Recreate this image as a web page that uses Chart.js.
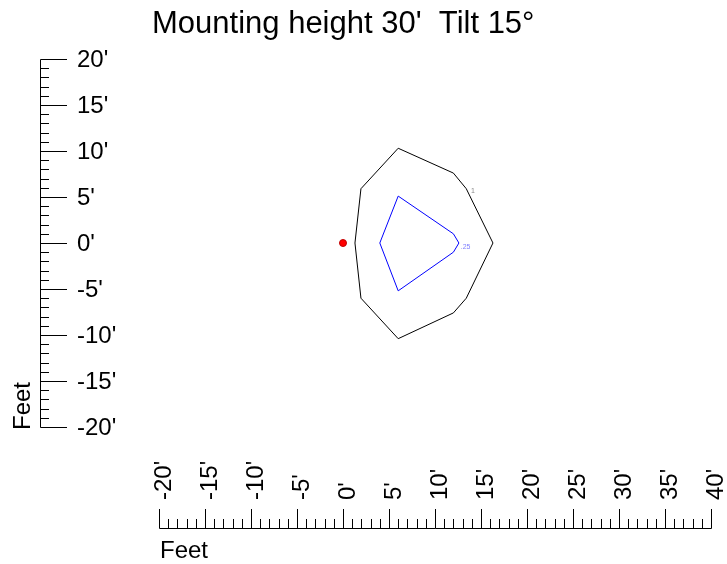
<!DOCTYPE html>
<html>
<head>
<meta charset="utf-8">
<script src="https://cdn.jsdelivr.net/npm/chart.js@4.4.1/dist/chart.umd.min.js"></script>
<style>
  html, body { margin: 0; padding: 0; background: #fff; }
  #wrap { width: 727px; height: 564px; }
</style>
</head>
<body>
<div id="wrap"><canvas id="chartIso"></canvas></div>
<script>
// isoline contours, feet
const outerX = [6.0, 12.0, 13.4, 16.3, 13.4, 12.0, 6.0, 1.95, 1.3, 1.95, 6.0];
const outerY = [10.3, 7.6, 5.9, 0, -6.0, -7.6, -10.4, -6.0, 0, 5.9, 10.3];
const innerX = [6.0, 12.0, 12.6, 12.0, 6.0, 4.0, 6.0];
const innerY = [5.1, 1.0, 0, -1.0, -5.2, 0, 5.1];
const poleX = [0];
const poleY = [0];
const contourLabels = ['1', '.25'];
const labelX = [13.9, 12.8];
const labelY = [5.65, -0.4];
const xTicks = [-20, -15, -10, -5, 0, 5, 10, 15, 20, 25, 30, 35, 40];
const yTicks = [20, 15, 10, 5, 0, -5, -10, -15, -20];
const titleText = "Mounting height 30'  Tilt 15°";
const axisTitle = 'Feet';

const toPts = (xs, ys) => xs.map((x, i) => ({x: x, y: ys[i]}));

const rulers = {
    id: 'rulers',
    afterDraw(chart) {
        const ctx = chart.ctx;
        const xs = chart.scales.x;
        const ys = chart.scales.y;
        const font = '24px "Liberation Sans", Arial, sans-serif';
        ctx.save();

        // title
        ctx.fillStyle = '#000';
        ctx.font = '31px "Liberation Sans", Arial, sans-serif';
        ctx.textAlign = 'left';
        ctx.textBaseline = 'alphabetic';
        ctx.fillText(titleText, 152, 33);

        // contour labels
        ctx.font = '7px "Liberation Sans", Arial, sans-serif';
        ctx.textBaseline = 'middle';
        ctx.fillStyle = '#888';
        ctx.fillText(contourLabels[0], xs.getPixelForValue(labelX[0]), ys.getPixelForValue(labelY[0]));
        ctx.fillStyle = '#8080ff';
        ctx.fillText(contourLabels[1], xs.getPixelForValue(labelX[1]), ys.getPixelForValue(labelY[1]));

        ctx.strokeStyle = '#000';
        ctx.lineWidth = 1;

        // vertical ruler
        const rx = 40.5;
        ctx.beginPath();
        ctx.moveTo(rx, Math.round(ys.getPixelForValue(20)) + 0.5);
        ctx.lineTo(rx, Math.round(ys.getPixelForValue(-20)) + 0.5);
        for (let v = -20; v <= 20; v++) {
            const py = Math.round(ys.getPixelForValue(v)) + 0.5;
            ctx.moveTo(rx, py);
            ctx.lineTo(v % 5 === 0 ? 67 : 49, py);
        }
        ctx.stroke();

        ctx.font = font;
        ctx.fillStyle = '#000';
        ctx.textAlign = 'left';
        ctx.textBaseline = 'middle';
        yTicks.forEach(v => ctx.fillText(v + "'", 77, ys.getPixelForValue(v) + 1));

        // horizontal ruler
        const ry = 528.5;
        ctx.beginPath();
        ctx.moveTo(Math.round(xs.getPixelForValue(-20)) + 0.5, ry);
        ctx.lineTo(Math.round(xs.getPixelForValue(40)) + 0.5, ry);
        for (let v = -20; v <= 40; v++) {
            const px = Math.round(xs.getPixelForValue(v)) + 0.5;
            ctx.moveTo(px, ry);
            ctx.lineTo(px, v % 5 === 0 ? 509 : 519);
        }
        ctx.stroke();

        xTicks.forEach(v => {
            ctx.save();
            ctx.translate(xs.getPixelForValue(v) + 5, 500);
            ctx.rotate(-Math.PI / 2);
            ctx.textAlign = 'left';
            ctx.textBaseline = 'middle';
            ctx.fillText(v + "'", 0, 0);
            ctx.restore();
        });

        // axis titles
        ctx.textBaseline = 'alphabetic';
        ctx.fillText(axisTitle, 160, 558);
        ctx.save();
        ctx.translate(30, 430);
        ctx.rotate(-Math.PI / 2);
        ctx.fillText(axisTitle, 0, 0);
        ctx.restore();

        ctx.restore();
    }
};

const chartIso = new Chart(document.getElementById('chartIso').getContext('2d'), {
    type: 'scatter',
    data: {
        datasets: [{
            label: '1',
            data: toPts(outerX, outerY),
            showLine: true,
            borderColor: '#000000',
            borderWidth: 1,
            pointRadius: 0,
            fill: false
        }, {
            label: '1.25',
            data: toPts(innerX, innerY),
            showLine: true,
            borderColor: '#0000ff',
            borderWidth: 1,
            pointRadius: 0,
            fill: false
        }, {
            label: 'pole',
            data: toPts(poleX, poleY),
            pointRadius: 3.5,
            backgroundColor: '#ff0000',
            borderColor: '#c00000',
            borderWidth: 1
        }]
    },
    options: {
        responsive: true,
        maintainAspectRatio: false,
        animation: false,
        layout: {padding: {left: 159, right: 16, top: 59, bottom: 137}},
        plugins: {legend: {display: false}, tooltip: {enabled: false}},
        scales: {
            x: {type: 'linear', min: -20, max: 40, display: false},
            y: {type: 'linear', min: -20, max: 20, display: false}
        }
    },
    plugins: [rulers]
});
</script>
</body>
</html>
